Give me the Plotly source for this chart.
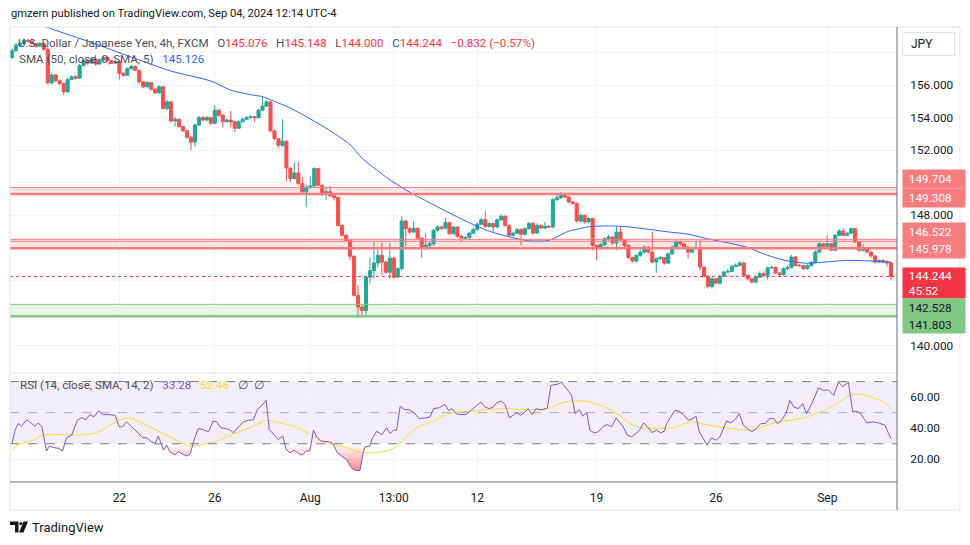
import plotly.graph_objects as go

# ---------------- data ----------------
first_open = 157.70
closes = [158.11, 158.45, 158.55, 158.75, 158.70, 158.55, 158.40, 158.55, 158.20, 156.14,
          156.62, 156.27, 156.10, 155.59, 156.35, 156.51, 156.42, 157.20, 157.50, 157.35,
          157.60, 157.30, 157.55, 157.70, 157.50, 157.35, 157.45, 156.72, 156.60, 157.00,
          157.15, 156.90, 156.20, 155.90, 156.15, 155.75, 155.53, 155.90, 154.56, 154.97,
          153.80, 153.90, 153.45, 153.20, 152.80, 152.50, 153.55, 154.00, 153.85, 154.00,
          153.65, 154.46, 154.15, 153.75, 153.85, 153.75, 153.35, 153.75, 153.90, 154.00,
          154.05, 154.00, 154.46, 154.71, 154.97, 153.19, 152.72, 152.30, 152.55, 150.90,
          150.26, 150.60, 149.95, 149.44, 149.74, 149.80, 150.87, 149.85, 149.33, 149.45,
          149.20, 149.10, 147.38, 146.77, 146.46, 145.48, 143.08, 142.36, 142.15, 144.20,
          144.60, 145.07, 145.54, 145.13, 144.50, 145.37, 144.20, 144.72, 147.65, 147.18,
          146.97, 147.20, 146.60, 145.95, 146.15, 146.25, 147.08, 147.28, 147.20, 147.55,
          146.87, 147.28, 146.71, 146.60, 146.62, 146.90, 147.12, 147.45, 147.73, 147.32,
          147.49, 147.28, 147.73, 147.94, 147.38, 146.77, 146.90, 147.12, 146.83, 147.18,
          147.49, 146.91, 147.38, 147.22, 147.32, 147.28, 148.96, 149.08, 149.33, 149.13,
          148.82, 148.72, 147.65, 148.00, 147.59, 147.80, 146.15, 146.05, 146.20, 146.56,
          146.67, 146.30, 146.97, 146.50, 146.15, 145.40, 145.19, 145.54, 145.74, 146.05,
          145.74, 145.13, 145.33, 145.40, 145.06, 145.64, 146.05, 146.36, 146.25, 146.05,
          145.74, 145.95, 146.00, 144.82, 144.25, 143.63, 144.10, 143.83, 144.25, 144.51,
          144.55, 144.86, 144.92, 145.07, 144.31, 144.10, 143.90, 144.20, 144.41, 144.31,
          144.77, 144.80, 144.45, 144.35, 144.72, 144.80, 145.44, 144.92, 144.90, 144.72,
          144.90, 145.10, 145.74, 146.25, 146.10, 146.25, 145.85, 146.77, 147.03, 146.77,
          146.90, 147.18, 146.36, 145.85, 145.95, 145.74, 145.50, 145.13, 145.22, 145.12,
          145.076, 144.244]
highs = [158.25, 158.60, 158.70, 158.85, 158.85, 158.75, 158.60, 158.65, 158.60, 158.40,
         156.75, 156.70, 156.35, 156.15, 156.45, 156.60, 156.60, 157.30, 157.60, 157.55,
         157.70, 157.85, 157.65, 157.80, 157.75, 157.55, 157.55, 157.50, 156.80, 157.10,
         157.25, 157.20, 156.95, 156.25, 156.25, 156.20, 155.80, 156.00, 155.95, 155.10,
         155.00, 154.05, 153.95, 153.50, 153.25, 152.85, 153.65, 154.10, 154.10, 154.10,
         154.05, 154.77, 154.50, 154.20, 153.95, 154.40, 153.80, 153.85, 154.00, 154.10,
         154.15, 154.10, 154.55, 155.28, 155.05, 155.00, 153.25, 152.75, 153.90, 152.60,
         150.95, 151.25, 151.28, 150.35, 149.85, 150.40, 150.95, 150.90, 149.90, 149.75,
         149.80, 149.35, 149.15, 147.45, 146.85, 146.50, 145.55, 143.70, 142.50, 144.30,
         145.40, 146.36, 145.90, 146.30, 145.20, 146.30, 145.45, 144.80, 147.94, 147.70,
         147.30, 147.65, 147.25, 146.65, 146.90, 146.35, 147.15, 147.40, 147.35, 147.85,
         147.60, 147.35, 147.30, 146.80, 146.72, 147.00, 147.25, 147.55, 147.85, 148.27,
         147.60, 147.55, 147.80, 148.05, 148.00, 147.45, 147.00, 147.20, 147.20, 147.25,
         147.60, 147.60, 147.50, 147.45, 147.60, 147.40, 149.05, 149.25, 149.44, 149.40,
         149.20, 148.90, 148.80, 148.10, 148.05, 147.90, 147.85, 146.20, 146.30, 146.65,
         146.80, 146.70, 147.30, 147.30, 146.55, 146.20, 145.45, 145.60, 145.85, 146.15,
         146.10, 146.97, 145.40, 145.50, 145.45, 145.70, 146.15, 146.50, 146.45, 146.30,
         146.10, 146.05, 146.45, 146.50, 144.90, 144.30, 144.20, 144.15, 144.35, 144.60,
         144.70, 144.95, 145.05, 145.20, 145.15, 144.35, 144.15, 144.30, 144.55, 144.55,
         144.85, 144.90, 144.85, 144.50, 144.80, 144.95, 145.55, 145.50, 145.00, 144.95,
         145.00, 145.20, 145.85, 146.35, 146.30, 146.75, 146.30, 146.85, 147.15, 147.20,
         147.00, 147.25, 147.20, 146.40, 146.25, 146.00, 145.80, 145.55, 145.30, 145.30,
         145.25, 145.148]
lows = [157.60, 158.05, 158.35, 158.50, 158.60, 158.45, 158.30, 158.35, 158.10, 156.05,
        156.05, 156.20, 156.00, 155.38, 155.50, 156.30, 156.35, 156.40, 157.15, 157.25,
        157.30, 157.20, 157.25, 157.50, 157.45, 157.30, 157.30, 156.35, 156.50, 156.55,
        156.95, 156.85, 156.10, 155.80, 155.85, 155.65, 155.45, 155.45, 154.50, 154.45,
        153.70, 153.45, 153.40, 153.10, 152.70, 152.00, 152.20, 153.50, 153.80, 153.80,
        153.55, 153.60, 154.05, 153.40, 153.70, 153.40, 153.10, 153.30, 153.70, 153.90,
        153.95, 153.75, 153.95, 154.40, 154.65, 153.10, 152.60, 152.15, 152.20, 150.09,
        150.05, 150.20, 149.85, 149.35, 148.50, 149.60, 149.70, 149.75, 149.20, 148.95,
        149.10, 148.90, 147.30, 146.70, 146.40, 145.23, 143.00, 141.70, 141.70, 141.90,
        143.80, 144.10, 144.80, 144.30, 144.40, 144.10, 144.10, 144.20, 144.60, 146.10,
        146.85, 146.90, 146.50, 145.40, 145.85, 146.05, 146.10, 147.00, 147.10, 147.15,
        146.80, 146.80, 146.60, 146.35, 146.50, 146.55, 146.85, 147.05, 147.40, 147.25,
        147.25, 146.95, 147.20, 147.65, 147.30, 146.70, 146.70, 146.85, 146.15, 146.75,
        147.10, 146.80, 146.85, 147.15, 147.15, 147.20, 147.20, 148.85, 149.00, 149.05,
        148.75, 148.65, 147.55, 147.55, 147.50, 147.50, 145.85, 145.23, 145.95, 146.10,
        146.45, 146.20, 145.85, 146.40, 146.05, 145.30, 145.10, 145.10, 145.45, 145.65,
        145.65, 145.05, 144.45, 145.25, 144.95, 145.00, 145.55, 145.95, 146.15, 145.95,
        145.35, 145.65, 145.90, 144.60, 144.15, 143.50, 143.50, 143.75, 143.75, 144.20,
        144.45, 144.50, 144.80, 144.85, 144.25, 144.00, 143.80, 143.80, 144.15, 144.25,
        144.05, 144.70, 144.40, 144.25, 144.30, 144.65, 144.75, 144.85, 144.85, 144.65,
        144.65, 144.85, 145.05, 145.70, 146.00, 146.00, 145.80, 145.80, 146.70, 146.70,
        146.70, 146.85, 146.30, 145.75, 145.80, 145.65, 145.40, 145.05, 145.05, 145.05,
        144.85, 144.000]
opens = [first_open] + closes[:-1]
bars = list(range(len(closes)))

# 50-period SMA of price (bar index, value)
sma_points = [(0, 160.40), (10, 159.45), (20, 158.62), (30, 157.72), (40, 156.86), (50, 156.25),
              (55, 155.69), (60, 155.41), (63, 155.29), (65, 155.10), (70, 154.59), (75, 153.92),
              (80, 153.20), (85, 152.34), (88, 151.51), (90, 151.11), (95, 150.18), (100, 149.42),
              (105, 148.77), (110, 148.14), (115, 147.54), (120, 147.02), (125, 146.68),
              (130, 146.43), (135, 146.46), (140, 147.02), (145, 147.29), (150, 147.35),
              (155, 147.29), (160, 147.14), (165, 146.98), (170, 146.84), (175, 146.55),
              (180, 146.31), (185, 146.02), (190, 145.54), (195, 145.20), (200, 145.05),
              (205, 145.14), (210, 145.23), (215, 145.20), (221, 145.126)]

# RSI(14) (bar index, value)
rsi_points = [(0, 30.2), (0.8, 39.1), (1.6, 43.0), (2.4, 41.3), (3.7, 45.5), (4.9, 43.0), (5.8, 41.3),
              (6.6, 43.4), (7.5, 40.9), (8.7, 25.3), (9.4, 28.5), (10.4, 27.6), (11.7, 27.0),
              (12.7, 25.3), (13.7, 33.8), (15.0, 35.5), (16.4, 45.1), (17.5, 46.8), (18.6, 45.5),
              (19.6, 48.9), (20.6, 47.2), (21.7, 51.1), (23.0, 48.7), (24.6, 48.7), (25.9, 48.3),
              (27.0, 40.9), (27.8, 40.9), (28.8, 44.1), (30.1, 40.9), (31.3, 37.7), (32.9, 34.0),
              (33.9, 33.8), (35.1, 31.3), (36.0, 30.2), (36.8, 34.9), (38.1, 25.9), (38.9, 29.1),
              (39.7, 24.9), (41.0, 22.7), (41.8, 24.9), (42.7, 23.8), (43.8, 22.1), (44.8, 23.4),
              (45.9, 33.4), (46.9, 39.8), (48.1, 39.1), (49.4, 37.7), (50.6, 44.7), (51.5, 44.1),
              (52.5, 40.4), (53.6, 39.8), (54.7, 39.1), (55.7, 37.0), (56.9, 40.9), (58.2, 44.1),
              (59.4, 45.1), (60.7, 45.5), (61.7, 51.9), (62.8, 54.7), (63.9, 57.9), (64.7, 39.1),
              (65.7, 36.6), (67.0, 32.8), (68.1, 34.9), (68.9, 26.4), (69.9, 24.2), (70.9, 25.9),
              (72.0, 23.8), (73.0, 22.7), (73.9, 25.3), (74.9, 25.5), (75.8, 38.7), (76.6, 34.5),
              (77.6, 31.7), (78.7, 31.3), (79.8, 31.3), (80.8, 29.8), (81.8, 24.2), (82.9, 22.1),
              (84.2, 19.6), (85.4, 14.2), (86.5, 12.7), (87.5, 12.7), (88.3, 24.2), (88.8, 28.0),
              (89.9, 28.5), (90.7, 34.0), (91.7, 38.0), (93.0, 35.9), (94.2, 40.2), (95.1, 36.6),
              (95.9, 38.7), (96.7, 38.7), (97.6, 54.1), (98.8, 51.9), (99.9, 51.9), (100.9, 50.4),
              (102.4, 46.2), (103.9, 46.6), (105.1, 47.2), (106.0, 52.6), (107.5, 53.2),
              (108.9, 55.3), (109.7, 51.5), (110.6, 52.6), (111.7, 49.4), (112.9, 48.7),
              (114.2, 48.9), (115.6, 51.9), (116.7, 54.1), (117.9, 56.8), (119.0, 53.6),
              (120.0, 52.6), (121.0, 53.6), (121.9, 56.4), (123.1, 57.5), (124.0, 55.1),
              (125.1, 46.6), (126.1, 48.3), (126.9, 50.0), (127.9, 48.3), (129.0, 50.4),
              (129.8, 52.6), (130.8, 48.7), (131.8, 52.6), (132.8, 51.9), (133.6, 52.1),
              (134.6, 53.0), (135.5, 67.5), (136.5, 67.9), (137.4, 68.5), (138.2, 69.6),
              (139.5, 65.3), (140.7, 61.1), (141.6, 49.4), (142.7, 51.9), (143.5, 47.7),
              (144.5, 50.4), (145.3, 38.7), (146.4, 37.0), (147.4, 37.7), (148.7, 41.3),
              (149.7, 42.3), (150.8, 40.9), (151.9, 46.6), (152.7, 44.1), (153.7, 40.9),
              (154.7, 35.5), (155.8, 34.5), (156.9, 36.6), (157.9, 39.1), (158.8, 43.4),
              (160.0, 40.4), (160.9, 37.2), (162.1, 38.7), (163.1, 37.0), (164.0, 38.1),
              (164.6, 43.0), (165.9, 48.7), (166.7, 51.5), (167.8, 50.9), (168.8, 48.7),
              (170.1, 45.1), (171.2, 46.2), (172.0, 47.7), (172.8, 37.7), (173.8, 33.4),
              (174.8, 29.1), (175.9, 33.8), (177.0, 32.3), (178.0, 34.5), (178.9, 39.8),
              (179.7, 44.7), (180.7, 43.4), (181.8, 45.5), (182.9, 49.4), (183.9, 41.9),
              (184.9, 39.8), (186.0, 37.7), (187.2, 39.8), (188.3, 43.0), (189.4, 43.0),
              (190.5, 46.2), (191.5, 46.2), (192.5, 43.0), (193.5, 45.1), (194.6, 49.4),
              (195.6, 57.9), (196.6, 53.6), (197.7, 52.6), (198.8, 55.8), (199.8, 49.4),
              (201.1, 55.8), (202.8, 66.0), (204.1, 64.3), (205.3, 64.7), (206.6, 61.1),
              (207.8, 69.6), (208.9, 66.8), (210.3, 69.6), (211.4, 50.4), (212.4, 50.9),
              (213.4, 49.4), (214.9, 43.4), (216.4, 44.1), (217.9, 43.4), (219.5, 41.9),
              (221.0, 33.28)]

# 14-period SMA of RSI (bar index, value)
rsi_ma_points = [(0, 26.4), (2.0, 29.8), (5.4, 32.3), (7.9, 35.5), (10.4, 35.9), (13.7, 35.9),
                 (17.1, 35.5), (21.3, 37.2), (24.6, 41.9), (28.0, 46.2), (30.1, 46.2), (33.0, 43.0),
                 (37.2, 37.7), (41.4, 32.3), (44.8, 28.5), (47.3, 29.1), (51.5, 31.7), (55.7, 36.2),
                 (60.7, 41.3), (64.0, 45.1), (68.2, 43.0), (72.4, 39.8), (75.8, 34.9), (79.1, 30.6),
                 (83.3, 28.1), (87.5, 24.9), (90.0, 24.2), (93.4, 24.9), (96.3, 27.6), (99.2, 34.5),
                 (101.8, 40.4), (106.0, 44.7), (109.3, 48.9), (112.2, 50.4), (116.0, 51.1),
                 (120.2, 52.1), (124.4, 52.6), (128.6, 52.1), (132.8, 51.9), (135.3, 53.0),
                 (137.8, 55.8), (140.3, 57.5), (144.5, 57.3), (148.7, 54.1), (152.1, 49.4),
                 (155.4, 43.0), (157.9, 40.4), (162.1, 39.8), (166.3, 40.4), (170.5, 44.1),
                 (173.8, 42.6), (178.9, 40.4), (183.9, 39.1), (186.4, 38.7), (189.8, 41.9),
                 (192.3, 44.1), (195.6, 45.1), (199.8, 47.2), (204.0, 51.5), (207.4, 55.8),
                 (209.9, 60.0), (211.6, 61.7), (214.1, 61.7), (216.6, 59.6), (219.1, 56.8),
                 (221.0, 52.46)]

time_tick_bars = [27, 51, 75, 96, 117, 147, 177, 205]
time_tick_text = ["22", "26", "Aug", "13:00", "12", "19", "26", "Sep"]

price_grid = [140, 142, 144, 146, 148, 150, 152, 154, 156, 158]
price_shown = [140, 148, 152, 154, 156]
rsi_ticks = [20, 40, 60]

resistance_upper = (149.704, 149.308)
resistance_lower = (146.522, 145.978)
support_zone = (142.528, 141.803)
last_price = 144.244
countdown = "45:52"
sma_last = 145.126
rsi_last, rsi_ma_last = 33.28, 52.46

# ---------------- layout geometry ----------------
W, H = 970, 545
L, R, T, B = 10, 897, 27, 482          # plot area in pixels
PW, PH = R - L, B - T


def px(xp):
    return (xp - L) / PW


def py(yp):
    return (B - yp) / PH


PRICE_DOM = [py(372.5), 1.0]
RSI_DOM = [0.0, py(373.5)]
GRID = "#f0f3fa"
FONT = "Roboto"

fig = go.Figure()

fig.add_trace(go.Candlestick(
    x=bars, open=opens, high=highs, low=lows, close=closes,
    increasing=dict(line=dict(color="#26a69a", width=1), fillcolor="#26a69a"),
    decreasing=dict(line=dict(color="#ef5350", width=1), fillcolor="#ef5350"),
    whiskerwidth=0, hoverinfo="skip", xaxis="x", yaxis="y", showlegend=False))

fig.add_trace(go.Scatter(
    x=[p[0] for p in sma_points], y=[p[1] for p in sma_points], mode="lines",
    line=dict(color="#2962ff", width=1, shape="spline", smoothing=0.6),
    hoverinfo="skip", xaxis="x", yaxis="y", showlegend=False))

rsi_x = [p[0] for p in rsi_points]
rsi_y = [p[1] for p in rsi_points]
fig.add_trace(go.Scatter(x=rsi_x, y=[30] * len(rsi_x), mode="lines", line=dict(width=0),
                         hoverinfo="skip", xaxis="x2", yaxis="y2", showlegend=False))
fig.add_trace(go.Scatter(x=rsi_x, y=[min(v, 30) for v in rsi_y], mode="lines", line=dict(width=0),
                         fill="tonexty",
                         fillgradient=dict(type="vertical", start=5, stop=30,
                                           colorscale=[[0, "rgba(242,54,69,0.85)"],
                                                       [1, "rgba(242,54,69,0.0)"]]),
                         hoverinfo="skip", xaxis="x2", yaxis="y2", showlegend=False))
fig.add_trace(go.Scatter(
    x=[p[0] for p in rsi_ma_points], y=[p[1] for p in rsi_ma_points], mode="lines",
    line=dict(color="#fdd835", width=1, shape="spline", smoothing=0.6),
    hoverinfo="skip", xaxis="x2", yaxis="y2", showlegend=False))
fig.add_trace(go.Scatter(x=rsi_x, y=rsi_y, mode="lines", line=dict(color="#7e57c2", width=1),
                         hoverinfo="skip", xaxis="x2", yaxis="y2", showlegend=False))

xr = [(L - 12) / 3.977, (R - 12) / 3.977]

shapes = []
shapes.append(dict(type="rect", xref="paper", yref="y2", x0=0, x1=1, y0=30, y1=70,
                   fillcolor="rgba(126,87,194,0.1)", line=dict(width=0), layer="below"))
for lv, col in ((70, "#787b86"), (50, "rgba(120,123,134,0.55)"), (30, "#787b86")):
    shapes.append(dict(type="line", xref="paper", yref="y2", x0=0, x1=1, y0=lv, y1=lv,
                       line=dict(color=col, width=1, dash="dash")))


def zone(top, bot, fill, line_col):
    shapes.append(dict(type="rect", xref="paper", yref="y", x0=0, x1=1, y0=bot, y1=top,
                       fillcolor=fill, line=dict(width=0), layer="below"))
    shapes.append(dict(type="line", xref="paper", yref="y", x0=0, x1=1, y0=top, y1=top,
                       line=dict(color=line_col, width=1)))
    shapes.append(dict(type="line", xref="paper", yref="y", x0=0, x1=1, y0=bot, y1=bot,
                       line=dict(color=line_col, width=2.5)))


zone(resistance_upper[0], resistance_upper[1], "rgba(247,124,128,0.2)", "#f77c80")
zone(resistance_lower[0], resistance_lower[1], "rgba(247,124,128,0.2)", "#f77c80")
shapes.append(dict(type="line", xref="paper", yref="y", x0=0, x1=1,
                   y0=resistance_lower[0] - 0.12, y1=resistance_lower[0] - 0.12,
                   line=dict(color="#f77c80", width=1)))
zone(support_zone[0], support_zone[1], "rgba(129,199,132,0.2)", "#81c784")

shapes.append(dict(type="line", xref="paper", yref="y", x0=0, x1=1, y0=last_price, y1=last_price,
                   line=dict(color="#f23645", width=1, dash="dot")))

frame = "#e0e3eb"
shapes += [
    dict(type="line", xref="paper", yref="paper", x0=px(L), x1=px(960), y0=1, y1=1, line=dict(color=frame, width=1)),
    dict(type="line", xref="paper", yref="paper", x0=px(L), x1=px(L), y0=py(510), y1=1, line=dict(color=frame, width=1)),
    dict(type="line", xref="paper", yref="paper", x0=px(960), x1=px(960), y0=py(510), y1=1, line=dict(color=frame, width=1)),
    dict(type="line", xref="paper", yref="paper", x0=px(L), x1=px(960), y0=py(510), y1=py(510), line=dict(color=frame, width=1)),
    dict(type="line", xref="paper", yref="paper", x0=0, x1=1, y0=py(373), y1=py(373), line=dict(color=frame, width=1)),
    dict(type="line", xref="paper", yref="paper", x0=0, x1=1, y0=0, y1=0, line=dict(color="#6a6d78", width=1)),
    dict(type="line", xref="paper", yref="paper", x0=1, x1=1, y0=py(510), y1=1, line=dict(color="#6a6d78", width=1)),
]


def path(pts):
    return "M " + " L ".join(f"{px(a):.5f},{py(b):.5f}" for a, b in pts) + " Z"


logo_col = "#131722"
shapes.append(dict(type="path", xref="paper", yref="paper",
                   path=path([(10, 521.5), (18.5, 521.5), (18.5, 532.5), (15, 532.5), (15, 525), (10, 525)]),
                   fillcolor=logo_col, line=dict(width=0)))
shapes.append(dict(type="circle", xref="paper", yref="paper", x0=px(19.3), x1=px(22.3), y0=py(525), y1=py(522),
                   fillcolor=logo_col, line=dict(width=0)))
shapes.append(dict(type="path", xref="paper", yref="paper",
                   path=path([(23.5, 521.5), (28, 521.5), (23.5, 532.5), (19, 532.5)]),
                   fillcolor=logo_col, line=dict(width=0)))

ann = []
TXT = "#131722"
GRAYTXT = "#4b4e58"
RED = "#f23645"
LEG = 11.6
SP = "&nbsp;&nbsp;&nbsp;"

ann.append(dict(xref="paper", yref="paper", x=px(9), y=py(13.5), xanchor="left", yanchor="middle",
                showarrow=False, text="gmzern published on TradingView.com, Sep 04, 2024 12:14 UTC-4",
                font=dict(family=FONT, size=11.2, color=TXT)))

o_, h_, l_, c_ = opens[-1], highs[-1], lows[-1], closes[-1]
row1 = (f"<span style='color:{GRAYTXT}'>U.S. Dollar / Japanese Yen, 4h, FXCM</span>{SP}"
        f"<span style='color:{GRAYTXT}'>O</span><span style='color:{RED}'>{o_:.3f}</span>{SP}"
        f"<span style='color:{GRAYTXT}'>H</span><span style='color:{RED}'>{h_:.3f}</span>{SP}"
        f"<span style='color:{GRAYTXT}'>L</span><span style='color:{RED}'>{l_:.3f}</span>{SP}"
        f"<span style='color:{GRAYTXT}'>C</span><span style='color:{RED}'>{c_:.3f}</span>{SP}"
        f"<span style='color:{RED}'>−0.832 (−0.57%)</span>")
ann.append(dict(xref="paper", yref="paper", x=px(15.5), y=py(42.7), xanchor="left", yanchor="middle",
                showarrow=False, text=row1, font=dict(family=FONT, size=LEG, color=GRAYTXT)))
row2 = (f"<span style='color:{GRAYTXT}'>SMA (50, close, 0, SMA, 5)</span>{SP}"
        f"<span style='color:#2962ff'>{sma_last:.3f}</span>")
ann.append(dict(xref="paper", yref="paper", x=px(16.5), y=py(59.3), xanchor="left", yanchor="middle",
                showarrow=False, text=row2, font=dict(family=FONT, size=LEG, color=GRAYTXT)))
row3 = (f"<span style='color:{GRAYTXT}'>RSI (14, close, SMA, 14, 2)</span>{SP}"
        f"<span style='color:#7e57c2'>{rsi_last:.2f}</span>{SP}"
        f"<span style='color:#fdd835'>{rsi_ma_last:.2f}</span>{SP}"
        f"<span style='color:{GRAYTXT}'>∅&nbsp;&nbsp;∅</span>")
ann.append(dict(xref="paper", yref="paper", x=px(17.5), y=py(385), xanchor="left", yanchor="middle",
                showarrow=False, text=row3, font=dict(family=FONT, size=LEG, color=GRAYTXT)))

ann.append(dict(xref="paper", yref="paper", x=px(30), y=py(527.5), xanchor="left", yanchor="middle",
                showarrow=False, text="TradingView", font=dict(family=FONT, size=13, color=TXT)))

ann.append(dict(xref="paper", yref="paper", x=px(902), y=py(44), xanchor="left", yanchor="middle",
                showarrow=False, text="&nbsp;&nbsp;JPY", align="left", width=47, height=18,
                bgcolor="white", bordercolor="#e0e3eb", borderwidth=1, borderpad=2,
                font=dict(family=FONT, size=12, color=TXT)))


def price_to_px(v):
    return T + (159.57 - v) / (159.57 - 138.34) * (372.5 - T)


labels = [
    (resistance_upper[0], f"{resistance_upper[0]:.3f}", 179.2, 18.4, "#f77c80", "white"),
    (resistance_upper[1], f"{resistance_upper[1]:.3f}", 197.5, 18.4, "#f77c80", "white"),
    (resistance_lower[0], f"{resistance_lower[0]:.3f}", 231.8, 17.6, "#f77c80", "white"),
    (resistance_lower[1], f"{resistance_lower[1]:.3f}", 249.3, 17.6, "#f77c80", "white"),
    (last_price, f"{last_price:.3f}", 275.6, 15.2, "#f23645", "white"),
    (last_price, countdown, 290.7, 15.2, "#f23645", "white"),
    (support_zone[0], f"{support_zone[0]:.3f}", 307.6, 17.2, "#81c784", TXT),
    (support_zone[1], f"{support_zone[1]:.3f}", 324.7, 17.2, "#81c784", TXT),
]
for v, txt, target, hh, bg, fg in labels:
    ann.append(dict(xref="paper", yref="y", x=px(901.7), y=v, xanchor="left", yanchor="middle",
                    yshift=price_to_px(v) - target, showarrow=False, text="&nbsp;&nbsp;" + txt,
                    align="left", width=62, height=hh, borderpad=0, bgcolor=bg,
                    font=dict(family=FONT, size=11.8, color=fg)))

fig.update_layout(
    width=W, height=H, margin=dict(l=L, r=W - R, t=T, b=H - B),
    paper_bgcolor="white", plot_bgcolor="white", showlegend=False,
    boxgap=0.22, boxgroupgap=0.0,
    xaxis=dict(domain=[0, 1], anchor="y", range=xr, showticklabels=False,
               tickvals=time_tick_bars, showgrid=True, gridcolor=GRID, zeroline=False,
               rangeslider=dict(visible=False), fixedrange=True),
    xaxis2=dict(domain=[0, 1], anchor="y2", matches="x", range=xr, tickvals=time_tick_bars,
                ticktext=time_tick_text, showgrid=True, gridcolor=GRID, zeroline=False,
                ticks="outside", ticklen=5, tickcolor="rgba(0,0,0,0)",
                tickfont=dict(family=FONT, size=12, color=TXT)),
    yaxis=dict(domain=PRICE_DOM, anchor="x", side="right", range=[138.34, 159.57],
               tickvals=price_grid,
               ticktext=[f"{v:.3f}" if v in price_shown else "" for v in price_grid],
               showgrid=True, gridcolor=GRID, zeroline=False,
               ticks="outside", ticklen=10, tickcolor="rgba(0,0,0,0)",
               tickfont=dict(family=FONT, size=11.8, color=TXT)),
    yaxis2=dict(domain=RSI_DOM, anchor="x2", side="right", range=[5.4, 75.2],
                tickvals=rsi_ticks, ticktext=[f"{v:.2f}" for v in rsi_ticks],
                showgrid=True, gridcolor=GRID, zeroline=False,
                ticks="outside", ticklen=10, tickcolor="rgba(0,0,0,0)",
                tickfont=dict(family=FONT, size=11.8, color=TXT)),
    shapes=shapes, annotations=ann,
)

fig.write_html("out.html", config={"displayModeBar": False, "staticPlot": True},
               post_script="document.body.style.margin='0';document.body.style.overflow='hidden';")
